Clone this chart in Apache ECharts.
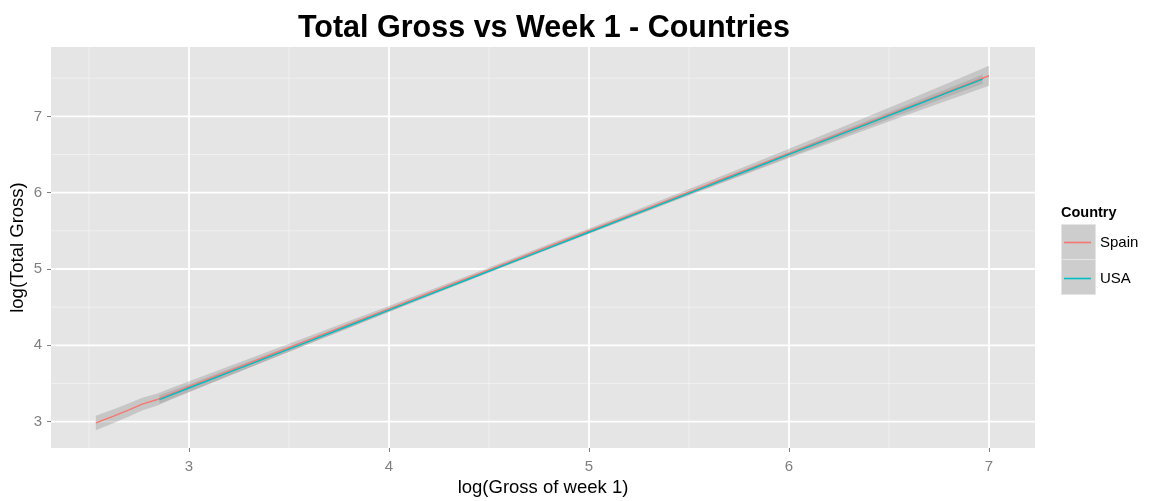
<!DOCTYPE html>
<html>
<head>
<meta charset="utf-8">
<script src="https://cdn.jsdelivr.net/npm/echarts@6/dist/echarts.min.js"></script>
<style>
  html, body { margin: 0; padding: 0; background: #ffffff; }
  #chart { width: 1149px; height: 501px; }
</style>
</head>
<body>
<div id="chart"></div>
<script>
// Smoothed fit of log(total gross) against log(gross of week 1), per country
const spainX   = [2.534, 2.62, 2.70, 2.766, 2.842, 2.92, 3.0, 3.2, 3.4, 3.6, 3.8, 4.0, 4.2, 4.4, 4.6, 4.8, 5.0, 5.2, 5.4, 5.6, 5.8, 6.0, 6.2, 6.4, 6.6, 6.8, 7.0];
const spainFit = [2.983, 3.068, 3.153, 3.228, 3.29, 3.374, 3.458, 3.662, 3.866, 4.07, 4.274, 4.478, 4.683, 4.886, 5.09, 5.295, 5.498, 5.70, 5.906, 6.11, 6.31, 6.514, 6.717, 6.921, 7.125, 7.328, 7.532];
// half width of the confidence band
const spainSe  = [0.095, 0.09, 0.086, 0.083, 0.079, 0.075, 0.072, 0.064, 0.056, 0.049, 0.043, 0.038, 0.034, 0.032, 0.031, 0.031, 0.032, 0.034, 0.038, 0.044, 0.052, 0.061, 0.072, 0.084, 0.097, 0.112, 0.13];

const usaX   = [2.852, 3.0, 3.2, 3.4, 3.6, 3.8, 4.0, 4.2, 4.4, 4.6, 4.8, 5.0, 5.2, 5.4, 5.6, 5.8, 6.0, 6.2, 6.4, 6.6, 6.8, 6.968];
const usaFit = [3.289, 3.44, 3.644, 3.848, 4.052, 4.256, 4.46, 4.665, 4.869, 5.073, 5.277, 5.481, 5.685, 5.889, 6.093, 6.297, 6.501, 6.705, 6.909, 7.113, 7.318, 7.489];
const usaSe  = [0.055, 0.05, 0.044, 0.038, 0.033, 0.028, 0.024, 0.021, 0.019, 0.018, 0.018, 0.018, 0.019, 0.021, 0.024, 0.028, 0.032, 0.037, 0.042, 0.048, 0.054, 0.06];

const xTicks = [3, 4, 5, 6, 7];
const yTicks = [3, 4, 5, 6, 7];
const xMinor = [2.5, 3.5, 4.5, 5.5, 6.5];
const yMinor = [3.5, 4.5, 5.5, 6.5, 7.5];

const X_MIN = 2.31, X_MAX = 7.23;
const Y_MIN = 2.654, Y_MAX = 7.909;

const countries = ['Spain', 'USA'];
const colors = ['#F8766D', '#00BFC4'];

function pairs(xs, ys) { return xs.map((x, i) => [x, ys[i]]); }

// vertical / horizontal panel grid lines
function gridSeries(values, vertical, width, color) {
  return {
    type: 'custom', silent: true, z: 1, clip: true,
    data: values.map(v => vertical ? [v, (Y_MIN + Y_MAX) / 2] : [(X_MIN + X_MAX) / 2, v]),
    renderItem: function (params, api) {
      const cs = params.coordSys;
      const p = api.coord([api.value(0), api.value(1)]);
      const shape = vertical
        ? { x1: p[0], y1: cs.y, x2: p[0], y2: cs.y + cs.height }
        : { x1: cs.x, y1: p[1], x2: cs.x + cs.width, y2: p[1] };
      return { type: 'line', shape: shape, style: { stroke: color, lineWidth: width } };
    }
  };
}

// grey confidence ribbon around a fit
function ribbonSeries(xs, fit, se) {
  return {
    type: 'custom', silent: true, z: 2, clip: true,
    data: xs.map((x, i) => [x, fit[i] - se[i], fit[i] + se[i]]),
    encode: { x: 0, y: [1, 2] },
    renderItem: function (params, api) {
      if (params.dataIndex !== 0) return null;
      const upper = xs.map((x, i) => api.coord([x, fit[i] + se[i]]));
      const lower = xs.map((x, i) => api.coord([x, fit[i] - se[i]])).reverse();
      return {
        type: 'polygon',
        shape: { points: upper.concat(lower) },
        style: { fill: 'rgba(153,153,153,0.4)', stroke: null }
      };
    }
  };
}

const chart = echarts.init(document.getElementById('chart'));
const font = 'Liberation Sans, Arial, sans-serif';

chart.setOption({
  animation: false,
  textStyle: { fontFamily: font },
  title: [
    {
      text: 'Total Gross vs Week 1 - Countries',
      left: 539, top: 8, textAlign: 'center',
      textStyle: { fontSize: 30.5, fontWeight: 'bold', color: '#000', fontFamily: font }
    },
    {
      text: 'Country', left: 1061, top: 205, padding: 0,
      textStyle: { fontSize: 14.5, fontWeight: 'bold', color: '#000', fontFamily: font }
    }
  ],
  graphic: {
    elements: [
      { type: 'rect', left: 1061, top: 224, shape: { width: 34, height: 35 }, style: { fill: '#CDCDCD', stroke: '#E4E4E4', lineWidth: 1 }, z: 0 },
      { type: 'rect', left: 1061, top: 259, shape: { width: 34, height: 35 }, style: { fill: '#CDCDCD', stroke: '#E4E4E4', lineWidth: 1 }, z: 0 }
    ]
  },
  legend: {
    data: countries,
    orient: 'vertical',
    left: 1064, top: 234.5,
    padding: 0,
    icon: 'rect',
    itemWidth: 27, itemHeight: 1.6,
    itemGap: 20,
    selectedMode: false,
    textStyle: { fontSize: 15, color: '#000', lineHeight: 16, padding: [0, 0, 0, 4], fontFamily: font },
    z: 5
  },
  grid: {
    left: 51, right: 114, top: 47, bottom: 53,
    containLabel: false,
    outerBoundsMode: 'none',
    show: true, backgroundColor: '#E5E5E5', borderWidth: 0
  },
  xAxis: {
    type: 'value', min: X_MIN, max: X_MAX,
    name: 'log(Gross of week 1)', nameLocation: 'middle', nameGap: 30,
    nameMoveOverlap: false,
    nameTextStyle: { fontSize: 18.5, color: '#000', fontFamily: font },
    axisLine: { show: false },
    axisTick: { show: true, customValues: xTicks, length: 4, lineStyle: { color: '#7F7F7F', width: 1 } },
    axisLabel: { customValues: xTicks, color: '#7F7F7F', fontSize: 15, margin: 11, fontFamily: font },
    splitLine: { show: false }
  },
  yAxis: {
    type: 'value', min: Y_MIN, max: Y_MAX,
    name: 'log(Total Gross)', nameLocation: 'middle', nameGap: 24,
    nameMoveOverlap: false,
    nameTextStyle: { fontSize: 18.5, color: '#000', fontFamily: font },
    axisLine: { show: false },
    axisTick: { show: true, customValues: yTicks, length: 4, lineStyle: { color: '#7F7F7F', width: 1 } },
    axisLabel: { customValues: yTicks, color: '#7F7F7F', fontSize: 15, margin: 9, fontFamily: font },
    splitLine: { show: false }
  },
  series: [
    gridSeries(xMinor, true, 0.8, '#F2F2F2'),
    gridSeries(yMinor, false, 0.8, '#F2F2F2'),
    gridSeries(xTicks, true, 1.8, '#FFFFFF'),
    gridSeries(yTicks, false, 1.8, '#FFFFFF'),
    ribbonSeries(spainX, spainFit, spainSe),
    ribbonSeries(usaX, usaFit, usaSe),
    {
      name: countries[0], type: 'line', z: 3,
      data: pairs(spainX, spainFit),
      showSymbol: false, symbol: 'none',
      color: colors[0],
      lineStyle: { color: colors[0], width: 1.4 }
    },
    {
      name: countries[1], type: 'line', z: 4,
      data: pairs(usaX, usaFit),
      showSymbol: false, symbol: 'none',
      color: colors[1],
      lineStyle: { color: colors[1], width: 1.4 }
    }
  ]
});
</script>
</body>
</html>
